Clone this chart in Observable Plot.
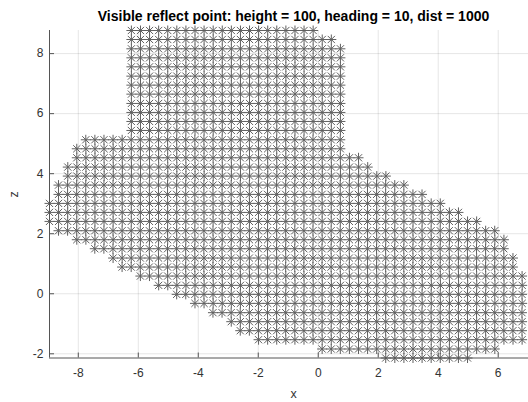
<!DOCTYPE html>
<html><head><meta charset="utf-8">
<script src="https://cdn.jsdelivr.net/npm/d3@7"></script>
<script src="https://cdn.jsdelivr.net/npm/@observablehq/plot@0.6"></script>
<style>
html,body{margin:0;padding:0;background:#fff;overflow:hidden;}
svg{overflow:visible;}
</style>
</head><body><div id="chart"></div>
<script>
const titleText = "Visible reflect point: height = 100, heading = 10, dist = 1000";
const xLabel = "x";
const zLabel = "z";
const gridStep = 0.303;
// one entry per row of reflect points (bottom to top)
const zRows = [-2.14,-1.84,-1.53,-1.23,-0.93,-0.63,-0.32,-0.02,0.28,0.59,0.89,1.19,1.50,1.80,2.10,2.41,2.71,3.01,3.31,3.62,3.92,4.22,4.53,4.83,5.13,5.44,5.74,6.04,6.34,6.65,6.95,7.25,7.56,7.86,8.16,8.47,8.77];
const xFirst = [2.25,0.13,-1.99,-2.60,-2.90,-3.51,-4.11,-4.72,-5.32,-5.93,-6.54,-6.84,-7.45,-8.05,-8.66,-8.96,-8.96,-8.96,-8.66,-8.66,-8.35,-8.35,-8.05,-8.05,-7.75,-6.23,-6.23,-6.23,-6.23,-6.23,-6.23,-6.23,-6.23,-6.23,-6.23,-6.23,-6.23];
const xLast  = [4.98,5.89,6.80,6.80,6.80,6.80,6.80,6.80,6.80,6.80,6.49,6.49,6.19,6.19,5.89,5.28,4.68,4.07,3.46,2.86,2.25,1.65,1.34,0.74,0.74,0.74,0.74,0.74,0.74,0.74,0.74,0.74,0.74,0.74,0.74,0.43,-0.17];
const xTicks = [-8,-6,-4,-2,0,2,4,6];
const zTicks = [-2,0,2,4,6,8];
const xDomain = [-8.96, 7.31];
const zDomain = [-2.14, 8.77];

const points = [];
zRows.forEach((z, r) => {
  const n = Math.round((xLast[r] - xFirst[r]) / gridStep);
  for (let k = 0; k <= n; k++) points.push({x: xFirst[r] + k * gridStep, z});
});

const asterisk = {
  draw(ctx, size) {
    const r = Math.sqrt(size / Math.PI);
    const d = r * 0.72;
    ctx.moveTo(-r, 0); ctx.lineTo(r, 0);
    ctx.moveTo(0, -r); ctx.lineTo(0, r);
    ctx.moveTo(-d, -d); ctx.lineTo(d, d);
    ctx.moveTo(-d, d); ctx.lineTo(d, -d);
  }
};

const W = 528, H = 402;
const padLeft = 49, padTop = 30, axisBottom = 357.5, rightEnd = 537;
const frameH = axisBottom - padTop, frameW = W - padLeft;
const xMid = (xDomain[0] + xDomain[1]) / 2;
const zMid = (zDomain[0] + zDomain[1]) / 2;

const chart = Plot.plot({
  width: W, height: H,
  marginLeft: padLeft, marginTop: padTop, marginRight: 0, marginBottom: H - axisBottom,
  style: {fontFamily: "'Liberation Sans', Arial, sans-serif", fontSize: "12px", color: "#333", background: "#fff"},
  x: {domain: xDomain, range: [padLeft, rightEnd]},
  y: {domain: zDomain, range: [axisBottom, padTop]},
  marks: [
    Plot.gridX(xTicks, {stroke: "#000", strokeOpacity: 0.1}),
    Plot.gridY(zTicks, {stroke: "#000", strokeOpacity: 0.1}),
    Plot.dot(points, {x: "x", y: "z", symbol: asterisk, r: 5, stroke: "#606060", fill: "none", strokeWidth: 1}),
    Plot.ruleX([xDomain[0]], {stroke: "#555"}),
    Plot.ruleY([zDomain[0]], {stroke: "#555"}),
    Plot.ruleX(xTicks, {stroke: "#555", insetTop: frameH - 5}),
    Plot.ruleY(zTicks, {stroke: "#555", insetRight: frameW - 5}),
    Plot.axisX({ticks: xTicks, tickSize: 0, tickPadding: 10, tickFormat: d => String(d), label: null, fontSize: 12}),
    Plot.axisY({ticks: zTicks, tickSize: 0, tickPadding: 6, tickFormat: d => String(d), label: null, fontSize: 12}),
    Plot.text([xLabel], {x: xMid, y: zDomain[0], dy: 36, fontSize: 12.5, fill: "#333"}),
    Plot.text([zLabel], {x: xDomain[0], y: zMid, dx: -36, rotate: -90, fontSize: 12.5, fill: "#333"}),
    Plot.text([titleText], {x: xMid, y: zDomain[1], dy: -14, fontSize: 14, fontWeight: "bold", fill: "#000"})
  ]
});
document.getElementById("chart").appendChild(chart);
</script>
</body></html>
